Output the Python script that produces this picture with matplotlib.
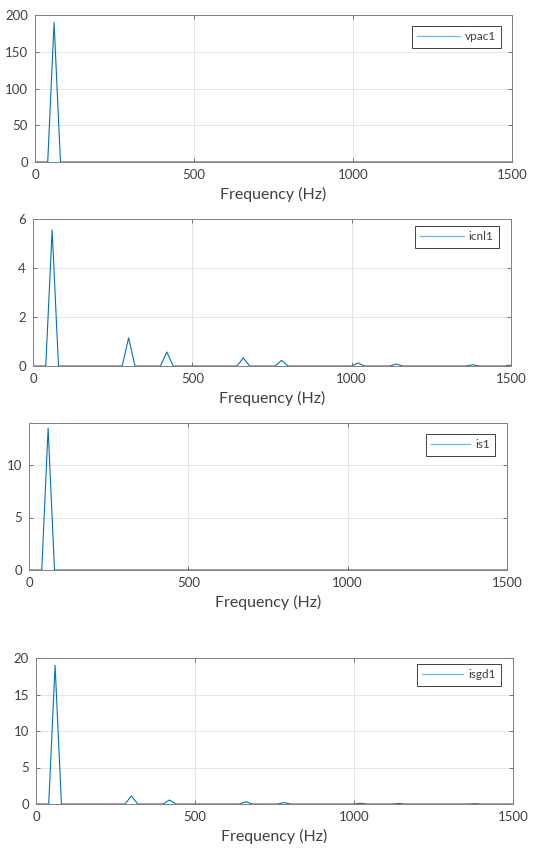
import numpy as np
import matplotlib.pyplot as plt

# frequency grid of the FFT (20 Hz resolution)
freq = np.arange(0, 1520, 20)

# harmonic frequencies (Hz) and amplitudes
harm_vpac1 = [60]
amp_vpac1 = [190]

harm_icnl1 = [60, 300, 420, 660, 780, 1020, 1140, 1380, 1500]
amp_icnl1 = [5.55, 1.15, 0.57, 0.33, 0.23, 0.12, 0.08, 0.05, 0.04]

harm_is1 = [60]
amp_is1 = [13.5]

harm_isgd1 = [60, 300, 420, 660, 780, 1020, 1140, 1380]
amp_isgd1 = [19, 1.1, 0.55, 0.3, 0.2, 0.1, 0.07, 0.05]

names = ['vpac1', 'icnl1', 'is1', 'isgd1']
harms = [harm_vpac1, harm_icnl1, harm_is1, harm_isgd1]
amps = [amp_vpac1, amp_icnl1, amp_is1, amp_isgd1]
ylims = [200, 6, 14, 20]
yticks = [[0, 50, 100, 150, 200], [0, 2, 4, 6], [0, 5, 10], [0, 5, 10, 15, 20]]

# axes boxes in pixels: left, top, right, bottom
boxes = [(35, 15, 512, 162), (33, 219, 511, 366), (29, 423, 507, 570), (36, 658, 513, 804)]
leg_boxes = [(418, 26, 501, 42), (423, 226, 499, 246), (429, 434, 495, 451), (423, 664, 501, 684)]
handle_len = [3.6, 3.7, 3.3, 3.5]

W, H = 546, 848
plt.rcParams['font.family'] = ['Lato', 'DejaVu Sans']
fig = plt.figure(figsize=(W / 100, H / 100), dpi=100)

blue = '#0072BD'
txt = '#404040'

for i in range(4):
    l, t, r, b = boxes[i]
    ax = fig.add_axes([l / W, 1 - b / H, (r - l) / W, (b - t) / H])
    spec = np.zeros(len(freq))
    for h, a in zip(harms[i], amps[i]):
        spec[np.searchsorted(freq, h)] = a
    ax.plot(freq, spec, color=blue, lw=0.8)
    ax.set_xlim(0, 1500)
    ax.set_ylim(0, ylims[i])
    ax.set_xticks([0, 500, 1000, 1500])
    ax.set_yticks(yticks[i])
    ax.grid(True, color='#e6e6e6', lw=0.7)
    ax.set_axisbelow(True)
    ax.tick_params(direction='in', top=True, right=True, length=3, width=0.6,
                   colors='#606060', labelcolor=txt, labelsize=9.5, pad=5)
    for s in ax.spines.values():
        s.set_color('#808080')
        s.set_linewidth(0.7)
    ax.set_xlabel('Frequency (Hz)', fontsize=11.5, color=txt, labelpad=4)

    # legend placed as in the reference
    ll, lt, lr, lb = leg_boxes[i]
    leg_line, = ax.plot([], [], color='#7fb2e0', lw=0.9)
    leg = ax.legend([leg_line], [names[i]], loc='upper right',
                    bbox_to_anchor=((lr - l) / (r - l), 1 - (lt - t) / (b - t)),
                    fontsize=8.5, frameon=True, fancybox=False,
                    handlelength=handle_len[i], borderpad=0.45, borderaxespad=0,
                    handletextpad=0.4, labelcolor=txt, framealpha=1)
    leg.get_frame().set_edgecolor('#404040')
    leg.get_frame().set_linewidth(0.7)

fig.savefig('out.png', dpi=100)
